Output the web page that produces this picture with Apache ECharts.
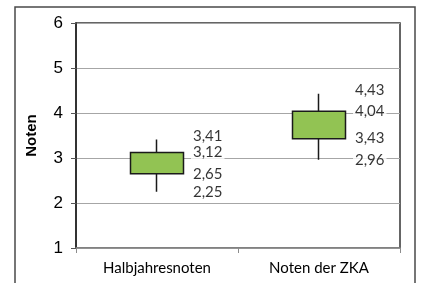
<!DOCTYPE html>
<html>
<head>
<meta charset="utf-8">
<script src="https://cdn.jsdelivr.net/npm/echarts@6/dist/echarts.min.js"></script>
<style>
  html, body { margin: 0; padding: 0; background: #fff; }
  #chart { width: 422px; height: 283px; }
</style>
</head>
<body>
<div id="chart"></div>
<script>
  const categories = ["Halbjahresnoten", "Noten der ZKA"]
  // [open, close, low, high]
  const boxLow = [2.65, 3.43]
  const boxHigh = [3.12, 4.04]
  const whiskerLow = [2.25, 2.96]
  const whiskerHigh = [3.41, 4.43]
  const yTicks = [1, 2, 3, 4, 5, 6]

  const candleData = categories.map((c, i) => [boxLow[i], boxHigh[i], whiskerLow[i], whiskerHigh[i]])

  // labels next to each candle
  const labelData = []
  categories.forEach((c, i) => {
    ;[whiskerHigh[i], boxHigh[i], boxLow[i], whiskerLow[i]].forEach((v, k) => {
      labelData.push({
        value: [c, v],
        label: { offset: [0, k === 0 ? -3 : 0] }
      })
    })
  })

  const chart = echarts.init(document.getElementById("chart"))
  chart.setOption({
    animation: false,
    graphic: [{
      type: "rect",
      shape: { x: 15, y: 7, width: 400, height: 300 },
      style: { fill: "none", stroke: "#4a4a4a", lineWidth: 1.5 },
      z: 100
    }],
    grid: {
      left: 76, top: 23, right: 22, bottom: 35,
      show: true, borderColor: "#333", borderWidth: 1.5
    },
    xAxis: {
      type: "category",
      data: categories,
      axisLine: { lineStyle: { color: "#8c8c8c", width: 1.5 } },
      axisTick: { show: true, length: 5, lineStyle: { color: "#8c8c8c" } },
      axisLabel: { fontFamily: "Lato", fontSize: 15, color: "#000", margin: 13 }
    },
    yAxis: {
      type: "value",
      min: yTicks[0], max: yTicks[yTicks.length - 1], interval: 1,
      name: "Noten",
      nameLocation: "middle",
      nameGap: 37,
      nameTextStyle: { fontFamily: "Liberation Sans", fontWeight: "bold", fontSize: 15, color: "#000" },
      axisLine: { show: true, lineStyle: { color: "#222", width: 1.5 } },
      axisTick: { show: true, length: 5, lineStyle: { color: "#555" } },
      axisLabel: { fontFamily: "Liberation Sans", fontSize: 17, color: "#000", margin: 13 },
      splitLine: { lineStyle: { color: "#a6a6a6", width: 1 } }
    },
    series: [
      {
        type: "candlestick",
        data: candleData,
        barWidth: 54,
        itemStyle: {
          color: "#92c353", color0: "#92c353",
          borderColor: "#1a1a1a", borderColor0: "#1a1a1a",
          borderWidth: 1.5
        }
      },
      {
        type: "scatter",
        data: labelData,
        symbolSize: 0,
        silent: true,
        label: {
          show: true,
          position: "right",
          distance: 34,
          fontFamily: "Lato",
          fontSize: 15,
          color: "#000",
          backgroundColor: "#fff",
          padding: [0, 2],
          formatter: (p) => p.value[1].toFixed(2).replace(".", ",")
        }
      }
    ]
  })
</script>
</body>
</html>
